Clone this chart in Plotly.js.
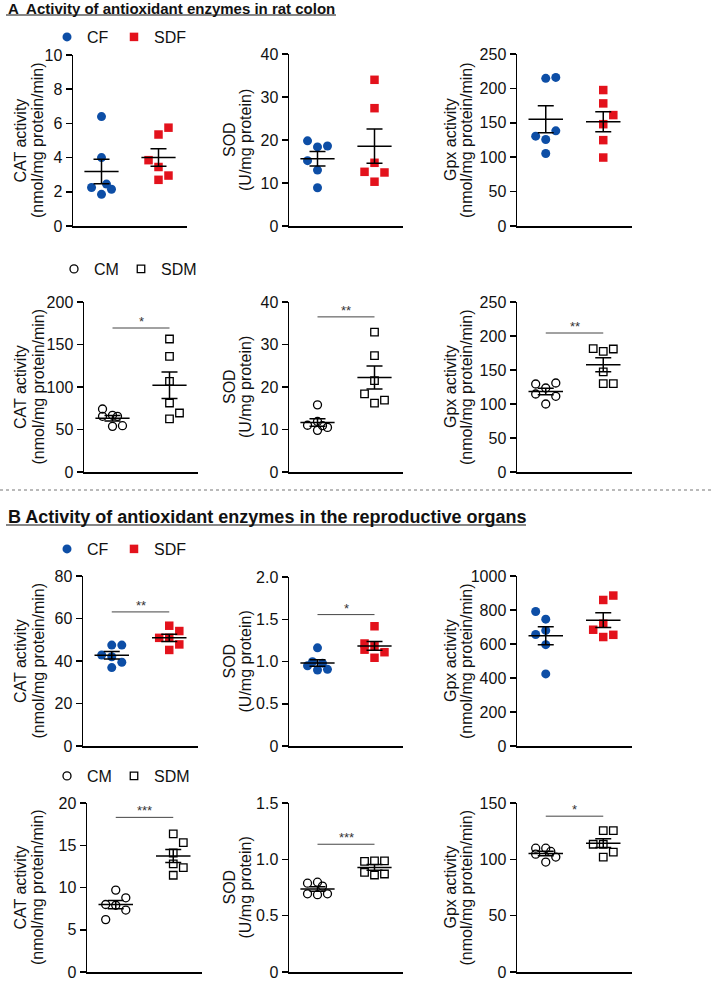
<!DOCTYPE html>
<html><head><meta charset="utf-8">
<script src="https://cdn.plot.ly/plotly-3.0.1.min.js"></script>
<style>html,body{margin:0;padding:0;background:#fff;}#chart{width:711px;height:982px;}</style>
</head><body><div id="chart"></div>
<script>
// ---------- DATA ----------
const feedGroups = ['CF', 'SDF'];
const milkGroups = ['CM', 'SDM'];

// A, colon, CF / SDF
const colonCatCF = [6.4, 4.0, 2.25, 2.45, 2.15, 1.85];
const colonCatCFSlot = [0, 0, -1, 0.5, 1, 0];
const colonCatSDF = [5.75, 5.35, 3.85, 3.45, 2.95, 2.7];
const colonCatSDFSlot = [1, 0, -1, 0, 1, 0];
const colonSodCF = [19.8, 18.4, 18.6, 15.2, 13.0, 8.9];
const colonSodCFSlot = [-1, 0, 1, -1, 0, 0];
const colonSodSDF = [34.0, 27.4, 14.7, 12.6, 12.45, 10.3];
const colonSodSDFSlot = [0, 0, 0, -1, 1, 0];
const colonGpxCF = [214.6, 216, 138.3, 130.6, 125.7, 105.3];
const colonGpxCFSlot = [0, 1, 1, -1, 0, 0];
const colonGpxSDF = [197.6, 178.2, 161.2, 148, 124.8, 99.5];
const colonGpxSDFSlot = [0, 0, 1, 0, 0, 0];
// A, colon, CM / SDM
const colonCatCM = [74.1, 65.5, 66.7, 65.5, 53.7, 54.5];
const colonCatCMSlot = [-1, -1, 0, 0.5, 0, 1];
const colonCatSDM = [156.5, 136.1, 106.7, 81.2, 69.4, 62.4];
const colonCatSDMSlot = [0, 0, 0, 0, 1, 0];
const colonSodCM = [15.8, 11.9, 11.0, 10.9, 10.5, 9.8];
const colonSodCMSlot = [0, 0, -1, 0.5, 1, 0];
const colonSodSDM = [32.9, 27.4, 21.5, 18.4, 16.9, 16.2];
const colonSodSDMSlot = [0, 0, 0, -1, 1, 0];
const colonGpxCM = [129.4, 130.9, 123.5, 114.7, 111.3, 100];
const colonGpxCMSlot = [-1, 1, 0, -1, 1, 0];
const colonGpxSDM = [181.4, 177.5, 180.9, 147.1, 129.9, 129.9];
const colonGpxSDMSlot = [-1, 0, 1, 0, 0, 1];
// B, reproductive organs, CF / SDF
const reproCatCF = [47.5, 47.5, 42.8, 42.0, 39.4, 36.9];
const reproCatCFSlot = [0, 1, -1, 0, 1, 0];
const reproCatSDF = [56.6, 54.1, 50.9, 50.9, 47.8, 45.2];
const reproCatSDFSlot = [0, 1, -1, 0, 1, 0];
const reproSodCF = [1.162, 0.997, 0.95, 0.98, 0.90, 0.907];
const reproSodCFSlot = [0, -0.5, -1, 0.5, 0, 1];
const reproSodSDF = [1.417, 1.213, 1.18, 1.14, 1.11, 1.044];
const reproSodSDFSlot = [0, -1, 0, -1, 1, 0];
const reproGpxCF = [791, 746, 680, 656, 596, 424];
const reproGpxCFSlot = [-1, 0, 0, -1, 0, 0];
const reproGpxSDF = [885, 859, 719, 684, 654, 641];
const reproGpxSDFSlot = [1, 0, 0, -1, 1, 0];
// B, reproductive organs, CM / SDM
const reproCatCM = [9.69, 8.78, 7.99, 7.9, 7.33, 6.2];
const reproCatCMSlot = [0, 1, -1, 0, 1, -1];
const reproCatSDM = [16.35, 15.3, 14.08, 12.8, 12.35, 11.45];
const reproCatSDMSlot = [0, 1, 0, 0, 1, 0];
const reproSodCM = [0.788, 0.797, 0.762, 0.694, 0.686, 0.694];
const reproSodCMSlot = [-1, 0, 0.5, -1, 0, 1];
const reproSodSDM = [0.981, 0.987, 0.987, 0.885, 0.861, 0.87];
const reproSodSDMSlot = [-1, 0, 1, -1, 0, 1];
const reproGpxCM = [109.9, 109.9, 104.6, 107, 102, 97.6];
const reproGpxCMSlot = [-1, 0, -1, 0.5, 1, 0];
const reproGpxSDM = [125.4, 125.4, 113.4, 113.4, 106.4, 102];
const reproGpxSDMSlot = [0, 1, -1, 0, 1, 0];

// significance bars (y level) and labels per panel
const sigLevels = [null, null, null, 169.4, 36.5, 204.4, 63.1, 1.555, null, 18.3, 1.134, 138.3];
const sigLabels = ['', '', '', '*', '**', '**', '**', '*', '', '***', '***', '*'];

// axis titles
const titleLine1 = ['CAT activity', 'SOD', 'Gpx activity', 'CAT activity', 'SOD', 'Gpx activity',
                    'CAT activity', 'SOD', 'Gpx activity', 'CAT activity', 'SOD', 'Gpx activity'];
const titleLine2 = ['(nmol/mg protein/min)', '(U/mg protein)', '(nmol/mg protein/min)',
                    '(nmol/mg protein/min)', '(U/mg protein)', '(nmol/mg protein/min)',
                    '(nmol/mg protein/min)', '(U/mg protein)', '(nmol/mg protein/min)',
                    '(nmol/mg protein/min)', '(U/mg protein)', '(nmol/mg protein/min)'];
// y-axis maxima and tick steps
const yMax = [10, 40, 250, 200, 40, 250, 80, 2.0, 1000, 20, 1.5, 150];
const yStep = [2, 10, 50, 50, 10, 50, 20, 0.5, 200, 5, 0.5, 50];

// ---------- STYLE / LAYOUT ----------
const W = 711, H = 982;
const FONT = 'Liberation Sans, Arial, sans-serif';
const BLUE = '#0d4ea6', RED = '#e3121c';
const SLOT = 0.175, HALF = 0.30, CAP = 8;

const series = [
  [colonCatCF, colonCatCFSlot, colonCatSDF, colonCatSDFSlot],
  [colonSodCF, colonSodCFSlot, colonSodSDF, colonSodSDFSlot],
  [colonGpxCF, colonGpxCFSlot, colonGpxSDF, colonGpxSDFSlot],
  [colonCatCM, colonCatCMSlot, colonCatSDM, colonCatSDMSlot],
  [colonSodCM, colonSodCMSlot, colonSodSDM, colonSodSDMSlot],
  [colonGpxCM, colonGpxCMSlot, colonGpxSDM, colonGpxSDMSlot],
  [reproCatCF, reproCatCFSlot, reproCatSDF, reproCatSDFSlot],
  [reproSodCF, reproSodCFSlot, reproSodSDF, reproSodSDFSlot],
  [reproGpxCF, reproGpxCFSlot, reproGpxSDF, reproGpxSDFSlot],
  [reproCatCM, reproCatCMSlot, reproCatSDM, reproCatSDMSlot],
  [reproSodCM, reproSodCMSlot, reproSodSDM, reproSodSDMSlot],
  [reproGpxCM, reproGpxCMSlot, reproGpxSDM, reproGpxSDMSlot]
];
// pixel boxes [x0, x1, yTop, yBottom]
const boxes = [
  [73, 187, 55, 226], [289, 403, 54, 226], [517, 632, 54, 226],
  [84, 198, 302, 472], [289, 403, 302, 472], [517, 632, 302, 472],
  [83, 198, 576, 746], [289, 403, 577, 746], [517, 632, 576, 746],
  [87, 202, 803, 972], [289, 403, 803, 972], [517, 632, 803, 972]
];
const titleX = [[20, 37.5], [229, 245], [450, 466]];
const legendY = [37, 269, 549, 776];
const legendX = [65, 72, 65, 65];

function mean(a) { return a.reduce((s, v) => s + v, 0) / a.length; }
function sem(a) {
  const m = mean(a);
  const v = a.reduce((s, x) => s + (x - m) * (x - m), 0) / (a.length - 1);
  return Math.sqrt(v / a.length);
}
function fmt(v, step) { return step < 1 ? (v === 0 ? '0' : v.toFixed(1)) : String(v); }

const traces = [], layout = {
  width: W, height: H, margin: {l: 0, r: 0, t: 0, b: 0},
  paper_bgcolor: '#fff', plot_bgcolor: 'rgba(0,0,0,0)',
  font: {family: FONT, color: '#111'},
  showlegend: true, annotations: [], shapes: []
};

series.forEach((s, i) => {
  const n = i + 1, sx = n === 1 ? '' : String(n);
  const row = Math.floor(i / 3), col = i % 3;
  const open = row === 1 || row === 3;
  const names = open ? milkGroups : feedGroups;
  const legId = row === 0 ? 'legend' : 'legend' + (row + 1);
  const [x0, x1, yt, yb] = boxes[i];

  layout['xaxis' + sx] = {
    domain: [x0 / W, x1 / W], range: [-0.5, 1.5], anchor: 'y' + sx,
    showline: true, linewidth: 1.5, linecolor: '#000', showticklabels: false,
    ticks: '', showgrid: false, zeroline: false, fixedrange: true
  };
  const tv = [], tt = [];
  for (let k = 0; k <= Math.round(yMax[i] / yStep[i]); k++) {
    const v = +(k * yStep[i]).toFixed(3); tv.push(v); tt.push(fmt(v, yStep[i]));
  }
  layout['yaxis' + sx] = {
    domain: [1 - yb / H, 1 - yt / H], range: [0, yMax[i]], anchor: 'x' + sx,
    showline: true, linewidth: 1.5, linecolor: '#000', ticks: 'outside', ticklen: 6,
    tickwidth: 1.5, tickcolor: '#000', tickvals: tv, ticktext: tt,
    ticklabeloverflow: 'allow',
    tickfont: {family: FONT, size: 16, color: '#111'},
    showgrid: false, zeroline: false, fixedrange: true
  };

  const [a, sa, b, sb] = s;
  const mk = (g) => open
    ? {symbol: g === 0 ? 'circle-open' : 'square-open', size: g === 0 ? 8 : 7.5, color: '#000', line: {width: 1.3, color: '#000'}}
    : {symbol: g === 0 ? 'circle' : 'square', size: g === 0 ? 9 : 8.5, color: g === 0 ? BLUE : RED, line: {width: 0}};
  [[a, sa], [b, sb]].forEach(([vals, slots], g) => {
    traces.push({
      type: 'scatter', mode: 'markers', name: names[g],
      x: vals.map((v, k) => g + slots[k] * SLOT), y: vals,
      xaxis: 'x' + sx, yaxis: 'y' + sx, marker: mk(g), cliponaxis: false,
      legend: legId, showlegend: col === 0, legendwidth: g === 0 ? 22 : 45,
      hoverinfo: 'y'
    });
  });
  const m0 = mean(a), m1 = mean(b);
  traces.push({
    type: 'scatter', mode: 'lines', x: [-HALF, HALF, null, 1 - HALF, 1 + HALF],
    y: [m0, m0, null, m1, m1], xaxis: 'x' + sx, yaxis: 'y' + sx,
    line: {color: '#000', width: 1.5}, showlegend: false, hoverinfo: 'skip'
  });
  traces.push({
    type: 'scatter', mode: 'markers', x: [0, 1], y: [m0, m1],
    xaxis: 'x' + sx, yaxis: 'y' + sx, marker: {size: 1, opacity: 0},
    error_y: {type: 'data', array: [sem(a), sem(b)], width: CAP, thickness: 1.5, color: '#000'},
    showlegend: false, hoverinfo: 'skip'
  });

  if (sigLevels[i] !== null) {
    layout.shapes.push({type: 'line', xref: 'x' + sx, yref: 'y' + sx, x0: 0, x1: 1,
      y0: sigLevels[i], y1: sigLevels[i], line: {color: '#444', width: 1}});
    layout.annotations.push({xref: 'x' + sx, yref: 'y' + sx, x: 0.5, y: sigLevels[i],
      text: sigLabels[i], showarrow: false, yanchor: 'bottom', yshift: -3,
      font: {family: FONT, size: 13, color: '#333'}});
  }
  const yc = 1 - ((yt + yb) / 2) / H;
  [titleLine1[i], titleLine2[i]].forEach((t, j) => {
    layout.annotations.push({xref: 'paper', yref: 'paper', x: titleX[col][j] / W, y: yc,
      text: t, textangle: -90, showarrow: false, xanchor: 'center', yanchor: 'middle',
      font: {family: FONT, size: 16, color: '#111'}});
  });
});

// legends
['legend', 'legend2', 'legend3', 'legend4'].forEach((id, r) => {
  layout[id] = {orientation: 'h', x: (legendX[r] - 18) / W, xanchor: 'left',
    y: 1 - legendY[r] / H, yanchor: 'middle', bgcolor: 'rgba(0,0,0,0)',
    font: {family: FONT, size: 16, color: '#111'}, itemclick: false, itemdoubleclick: false};
});

// section titles
layout.annotations.push({xref: 'paper', yref: 'paper', x: 6 / W, y: 1 - 8 / H,
  text: '<b>A  Activity of antioxidant enzymes in rat colon</b>', showarrow: false,
  xanchor: 'left', yanchor: 'middle', font: {family: FONT, size: 15, color: '#111'}});
layout.annotations.push({xref: 'paper', yref: 'paper', x: 6 / W, y: 1 - 517 / H,
  text: '<b>B Activity of antioxidant enzymes in the reproductive organs</b>', showarrow: false,
  xanchor: 'left', yanchor: 'middle', font: {family: FONT, size: 18, color: '#111'}});
layout.shapes.push({type: 'line', xref: 'paper', yref: 'paper', x0: 6 / W, x1: 336 / W,
  y0: 1 - 15 / H, y1: 1 - 15 / H, line: {color: '#111', width: 1.2}});
layout.shapes.push({type: 'line', xref: 'paper', yref: 'paper', x0: 6 / W, x1: 526 / W,
  y0: 1 - 525 / H, y1: 1 - 525 / H, line: {color: '#111', width: 1.2}});
layout.shapes.push({type: 'line', xref: 'paper', yref: 'paper', x0: 0, x1: 1,
  y0: 1 - 490 / H, y1: 1 - 490 / H, line: {color: '#777', width: 1.2, dash: 'dot'}});

Plotly.newPlot('chart', traces, layout, {staticPlot: true, displayModeBar: false});
</script></body></html>
